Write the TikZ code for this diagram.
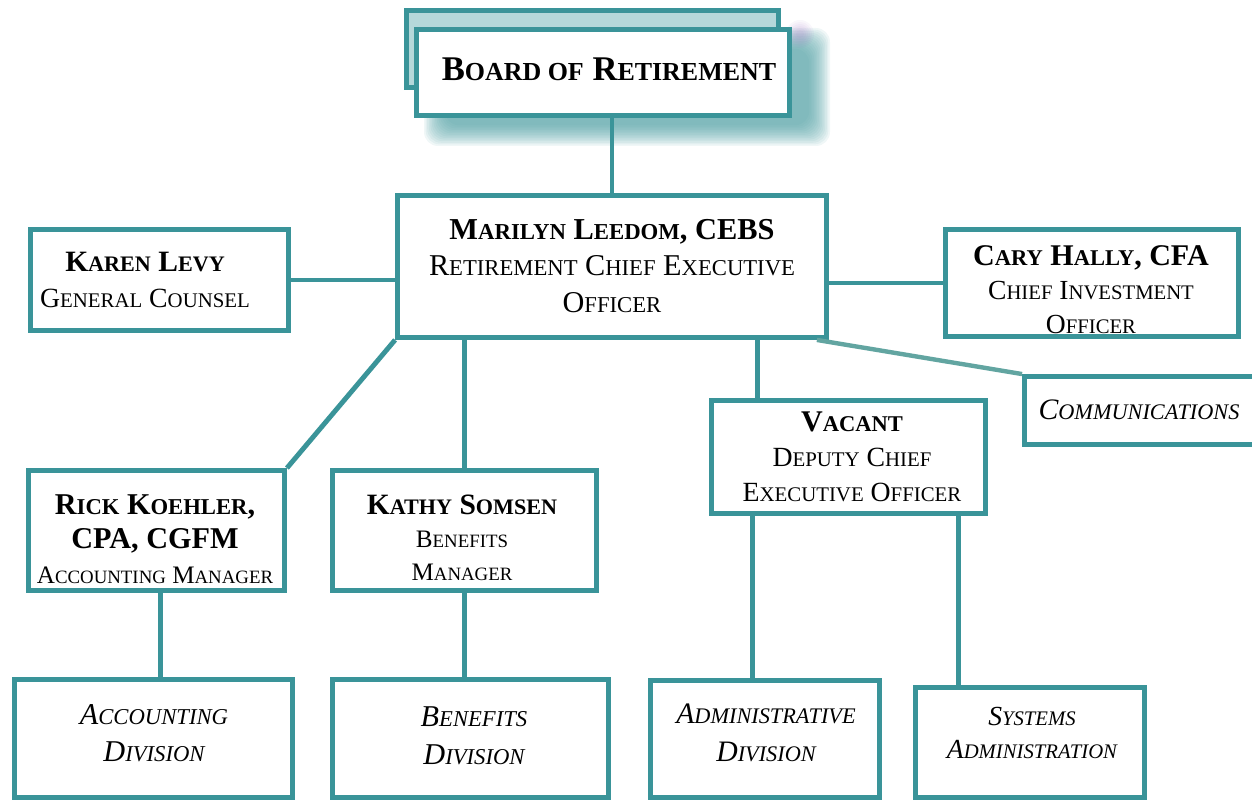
\documentclass[tikz,border=0pt]{standalone}
\usepackage{fontspec}
\setmainfont{Liberation Serif}
\usetikzlibrary{calc}
\definecolor{tealedge}{HTML}{3A9499}
\definecolor{tealpale}{HTML}{B5D8DA}
\definecolor{teallight}{HTML}{62A5A1}
\definecolor{tealshade}{HTML}{4F9FA3}
\definecolor{violetglow}{HTML}{9A6FC0}
% small capitals built from scaled capitals
\newcommand\smc[1]{\scalebox{0.75}{#1}}
\newcommand\fs[2]{\fontsize{#1}{#2}\selectfont}
\begin{document}
\begin{tikzpicture}[x=0.02cm,y=-0.02cm,
  box/.style={draw=tealedge,line width=2.8pt,fill=white,inner sep=0pt},
  link/.style={draw=tealedge,line width=2.8pt},
  txt/.style={align=center,inner sep=0pt,text=black}]
\useasboundingbox (0,0) rectangle (1252,800);

% soft shadow behind the board box
\foreach \i in {0,...,13}
  \fill[tealshade,opacity=0.085,rounded corners=8pt]
    (424+\i*1.6,28+\i*1.6) rectangle (830-\i*1.6,146-\i*1.6);
\foreach \i in {0,...,5}
  \fill[violetglow,opacity=0.06] (800,34) circle ({14-\i*2});

% board of retirement (two stacked boxes)
\node[box,fill=tealpale,minimum width=7.44cm,minimum height=1.54cm] (boardback) at (592.5,49) {};
\node[box,minimum width=7.46cm,minimum height=1.72cm] (board) at (603,72.5) {};
\node[txt] (boardtext) at (609,69) {\fs{19.7}{24}\bfseries B\smc{OARD OF} R\smc{ETIREMENT}};

% chief executive officer
\node[box,minimum width=8.58cm,minimum height=2.84cm] (ceo) at (612,266.5) {};
\node[txt,font=\fs{17.2}{21}] (ceotext) at (612,266)
  {{\fs{17.3}{21}\bfseries M\smc{ARILYN} L\smc{EEDOM}, CEBS}\\
   R\smc{ETIREMENT} C\smc{HIEF} E\smc{XECUTIVE}\\ O\smc{FFICER}};

% general counsel
\node[box,minimum width=5.16cm,minimum height=2.02cm] (karen) at (159.5,280) {};
\node[txt,font=\fs{15.8}{20.4}] (karentext) at (145,280)
  {{\fs{16.8}{20}\bfseries K\smc{AREN} L\smc{EVY}}\\ G\smc{ENERAL} C\smc{OUNSEL}};

% chief investment officer
\node[box,minimum width=5.86cm,minimum height=2.14cm] (cary) at (1092,283) {};
\node[txt,font=\fs{15.7}{19.3}] (carytext) at (1091,290)
  {{\fs{17.1}{20}\bfseries C\smc{ARY} H\smc{ALLY}, CFA}\\ C\smc{HIEF} I\smc{NVESTMENT}\\ O\smc{FFICER}};

% communications
\node[box,minimum width=4.7cm,minimum height=1.36cm] (comms) at (1142,410.5) {};
\node[txt] (commstext) at (1139,410) {\fs{16.9}{20}\itshape C\smc{OMMUNICATIONS}};

% deputy chief executive officer
\node[box,minimum width=5.48cm,minimum height=2.26cm] (vacant) at (848.5,457) {};
\node[txt,font=\fs{15.8}{19.8}] (vacanttext) at (852,457)
  {{\fs{17.1}{20}\bfseries V\smc{ACANT}}\\ D\smc{EPUTY} C\smc{HIEF}\\ E\smc{XECUTIVE} O\smc{FFICER}};

% accounting manager
\node[box,minimum width=5.12cm,minimum height=2.4cm] (rick) at (156.5,530.5) {};
\node[txt,font=\fs{14.3}{19.5}] (ricktext) at (155,539)
  {{\fs{17.2}{20}\bfseries R\smc{ICK} K\smc{OEHLER},}\\ {\fs{17.2}{20}\bfseries CPA, CGFM}\\ A\smc{CCOUNTING} M\smc{ANAGER}};

% benefits manager
\node[box,minimum width=5.28cm,minimum height=2.4cm] (kathy) at (464.5,530.5) {};
\node[txt,font=\fs{14.3}{18.7}] (kathytext) at (462,538)
  {{\fs{16.8}{20}\bfseries K\smc{ATHY} S\smc{OMSEN}}\\ B\smc{ENEFITS}\\ M\smc{ANAGER}};

% divisions
\node[box,minimum width=5.56cm,minimum height=2.36cm] (acctdiv) at (153.5,738.5) {};
\node[txt,font=\fs{17.2}{21}\itshape] (acctdivtext) at (154,733) {A\smc{CCOUNTING}\\ D\smc{IVISION}};

\node[box,minimum width=5.52cm,minimum height=2.36cm] (bendiv) at (470.5,738.5) {};
\node[txt,font=\fs{17.2}{21.5}\itshape] (bendivtext) at (474,736) {B\smc{ENEFITS}\\ D\smc{IVISION}};

\node[box,minimum width=4.58cm,minimum height=2.34cm] (admdiv) at (765,739) {};
\node[txt,font=\fs{16.9}{21.5}\itshape] (admdivtext) at (766,733) {A\smc{DMINISTRATIVE}\\ D\smc{IVISION}};

\node[box,minimum width=4.58cm,minimum height=2.2cm] (sysadm) at (1030,742.5) {};
\node[txt,font=\fs{15.7}{19.3}\itshape] (sysadmtext) at (1032,733) {S\smc{YSTEMS}\\ A\smc{DMINISTRATION}};

% connectors
\draw[link] (ceo.north) -- (ceo.north |- board.south);
\draw[link] (karen.east) -- (karen.east -| ceo.west);
\draw[link] (cary.west) -- (cary.west -| ceo.east);
\draw[teallight,line width=2.5pt] ($(ceo.south east)+(-12,0)$) -- (comms.north west);
\draw[link] (ceo.south west) -- (rick.north east);
\draw[link] (kathy.north) -- (kathy.north |- ceo.south);
\coordinate (vtop) at ($(vacant.north west)+(48.5,0)$);
\draw[link] (vtop) -- (vtop |- ceo.south);
\draw[link] ($(rick.south)+(4,0)$) -- ($(rick.south |- acctdiv.north)+(4,0)$);
\draw[link] (kathy.south) -- (kathy.south |- bendiv.north);
\coordinate (adtop) at ($(vacant.south west)+(43.5,0)$);
\draw[link] (adtop) -- (adtop |- admdiv.north);
\coordinate (satop) at ($(vacant.south east)+(-29,0)$);
\draw[link] (satop) -- (satop |- sysadm.north);
\end{tikzpicture}
\end{document}
